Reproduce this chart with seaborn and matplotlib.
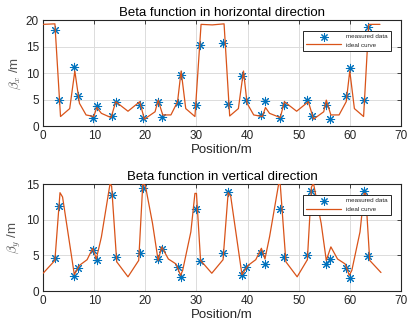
import matplotlib
matplotlib.use('Agg')
import matplotlib.pyplot as plt
import seaborn as sns
import pandas as pd

# measured data (horizontal)
mx_pos = [2.4, 3.1, 6.0, 6.8, 9.7, 10.5, 13.4, 14.2, 18.9, 19.5, 22.5, 23.2, 26.3, 26.9, 30.0, 30.6,
          35.2, 36.1, 38.9, 39.7, 42.6, 43.5, 46.4, 47.1, 51.7, 52.6, 55.3, 56.2, 59.2, 60.0, 62.7, 63.6]
mx_beta = [18.2, 5.0, 11.2, 5.6, 1.6, 3.8, 1.9, 4.6, 3.9, 1.6, 4.6, 1.8, 4.3, 9.6, 3.9, 15.3,
           15.7, 4.2, 9.4, 5.0, 2.1, 4.8, 1.6, 4.0, 5.0, 1.9, 4.0, 1.4, 5.7, 11.0, 5.0, 18.7]

# ideal curve (horizontal)
ix_pos = [0, 2.3, 3.4, 5.2, 6.2, 7.1, 8.4, 9.9, 10.5, 11.4, 13.3, 14.2, 16.6, 18.9, 19.8, 21.9,
          22.5, 23.4, 25.0, 26.3, 27.0, 27.9, 29.7, 30.9, 33.1, 35.4, 36.5, 38.2, 39.2, 39.9, 41.2,
          42.9, 43.5, 44.3, 46.4, 47.2, 49.6, 51.9, 52.9, 54.9, 55.4, 56.3, 57.9, 59.3, 60.0, 60.9,
          62.7, 63.7, 65.9]
ix_beta = [19.2, 19.3, 1.8, 3.3, 10.4, 4.3, 2.1, 1.8, 3.5, 2.4, 1.6, 4.6, 2.8, 4.6, 1.3, 2.7,
           4.9, 2.1, 2.1, 4.6, 10.4, 3.3, 1.8, 19.2, 19.1, 19.3, 1.9, 3.3, 10.4, 4.3, 2.1,
           1.8, 3.5, 2.4, 1.6, 4.6, 2.8, 4.6, 1.3, 2.7, 4.9, 2.1, 2.1, 4.6, 10.4, 3.3,
           1.8, 19.2, 19.2]

# measured data (vertical)
my_pos = [2.4, 3.1, 6.0, 6.8, 9.7, 10.5, 13.4, 14.2, 18.9, 19.5, 22.5, 23.2, 26.3, 26.9, 30.0, 30.6,
          35.2, 36.1, 38.9, 39.7, 42.6, 43.5, 46.4, 47.1, 51.7, 52.5, 55.3, 56.2, 59.2, 60.0, 62.8, 63.6]
my_beta = [4.7, 11.9, 2.1, 3.3, 5.7, 4.3, 13.5, 4.8, 5.3, 14.5, 4.5, 5.9, 3.4, 2.0, 11.5, 4.2,
           5.4, 13.9, 2.2, 3.4, 5.4, 3.8, 11.5, 4.8, 5.0, 14.1, 3.8, 4.5, 3.3, 1.9, 14.0, 4.9]

# ideal curve (vertical)
iy_pos = [0, 2.3, 3.3, 3.8, 6.1, 7.1, 8.6, 9.7, 10.4, 11.4, 13.1, 13.4, 14.4, 16.6, 18.7, 19.5,
          20.0, 21.4, 22.5, 23.2, 24.5, 26.0, 26.9, 27.3, 28.9, 29.7, 30.0, 30.8, 33.0, 35.2,
          36.2, 36.7, 38.9, 40.1, 41.6, 42.7, 43.4, 44.3, 46.1, 46.4, 47.5, 49.7, 51.7, 52.5,
          52.9, 54.4, 55.4, 56.3, 57.6, 59.1, 59.9, 60.4, 62.0, 62.8, 63.1, 63.9, 66.1]
iy_beta = [2.5, 4.3, 13.8, 13.2, 2.3, 3.6, 4.4, 6.0, 4.5, 7.6, 15.1, 14.7, 4.1, 2.0, 4.3, 15.1,
           14.8, 9.5, 4.3, 6.2, 4.5, 3.8, 2.2, 2.9, 8.3, 13.7, 13.7, 4.3, 2.5, 4.4,
           13.8, 13.3, 2.3, 3.6, 4.4, 6.0, 4.5, 7.6, 15.1, 14.9, 4.1, 2.0, 4.4, 14.6,
           15.1, 9.5, 4.3, 6.2, 4.5, 3.8, 2.2, 2.9, 8.3, 13.7, 13.7, 4.3, 2.6]

sns.set_style('white')
plt.rcParams['font.family'] = ['Liberation Sans', 'DejaVu Sans']
plt.rcParams['mathtext.fontset'] = 'cm'

blue = '#0072BD'
orange = '#D95319'
txt = '#262626'

fig = plt.figure(figsize=(4.07, 3.30), dpi=100)
ax1 = fig.add_axes([0.106, 0.618, 0.879, 0.321])
ax2 = fig.add_axes([0.106, 0.118, 0.879, 0.324])

panels = [
    (ax1, mx_pos, mx_beta, ix_pos, ix_beta, 20, [0, 5, 10, 15, 20],
     'Beta function in horizontal direction', r'$\beta_x$ /m'),
    (ax2, my_pos, my_beta, iy_pos, iy_beta, 15, [0, 5, 10, 15],
     'Beta function in vertical direction', r'$\beta_y$ /m'),
]

for ax, mp, mb, ip, ib, ytop, yt, title, ylab in panels:
    meas = pd.DataFrame({'pos': mp, 'beta': mb})
    ideal = pd.DataFrame({'pos': ip, 'beta': ib})
    sns.scatterplot(data=meas, x='pos', y='beta', ax=ax, marker=(8, 2, 0), s=36,
                    color=blue, edgecolor=blue, linewidth=0.75, label='measured data', zorder=2)
    sns.lineplot(data=ideal, x='pos', y='beta', ax=ax, color=orange, linewidth=0.9,
                 label='ideal curve', sort=False, estimator=None, zorder=3)
    ax.set_xlim(0, 70)
    ax.set_ylim(0, ytop)
    ax.set_xticks([0, 10, 20, 30, 40, 50, 60, 70])
    ax.set_yticks(yt)
    ax.grid(True, color='#dcdcdc', linewidth=0.7)
    ax.set_axisbelow(True)
    for s in ax.spines.values():
        s.set_color(txt)
        s.set_linewidth(0.8)
    ax.tick_params(direction='in', length=3, width=0.6, labelsize=8.5, colors=txt,
                   top=True, right=True, labeltop=False, labelright=False, pad=3)
    ax.set_title(title, fontsize=9.5, color='black', pad=3)
    ax.set_xlabel('Position/m', fontsize=9.5, color=txt, labelpad=1)
    ax.set_ylabel(ylab, fontsize=9.5, color='#555555', labelpad=2)
    leg = ax.legend(loc='upper right', bbox_to_anchor=(0.98, 0.93), fontsize=4.5,
                    frameon=True, fancybox=False, edgecolor=txt, framealpha=1,
                    borderpad=0.5, handlelength=5.5, markerscale=0.9)
    leg.get_frame().set_linewidth(0.7)

fig.savefig('out.png', dpi=100)
